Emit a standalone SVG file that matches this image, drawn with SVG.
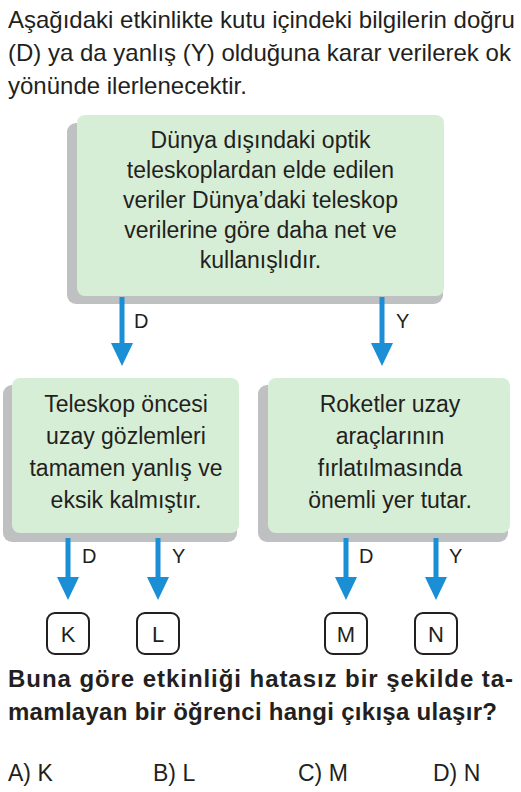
<svg xmlns="http://www.w3.org/2000/svg" width="521" height="792" viewBox="0 0 521 792">
<style>
.t{font-family:"Liberation Sans",Arial,Helvetica,sans-serif;fill:#231f20}
.h{font-size:24px}
.b{font-size:23px;text-anchor:middle}
.lbl{font-size:20px}
.q{font-size:24px;font-weight:bold}
.box{fill:#d7eed6}
.sh{fill:#bfc0c2}
.arr{fill:#1a8fd5}
.ex{fill:#fff;stroke:#231f20;stroke-width:2}
.exl{font-size:22px;text-anchor:middle}
.ans{font-size:23px}
</style>
<rect width="521" height="792" fill="#fff"/>
<g id="header">
<text class="t h" x="8" y="28">Aşağıdaki etkinlikte kutu içindeki bilgilerin doğru</text>
<text class="t h" x="8" y="61">(D) ya da yanlış (Y) olduğuna karar verilerek ok</text>
<text class="t h" x="8" y="94">yönünde ilerlenecektir.</text>
</g>
<g id="top">
<rect class="sh" x="67" y="123" width="376" height="181" rx="9"/>
<rect class="box" x="77" y="115" width="367" height="181" rx="8"/>
<text class="t b" x="260.5" y="148">Dünya dışındaki optik</text>
<text class="t b" x="260.5" y="178">teleskoplardan elde edilen</text>
<text class="t b" x="260.5" y="208">veriler Dünya’daki teleskop</text>
<text class="t b" x="260.5" y="238">verilerine göre daha net ve</text>
<text class="t b" x="260.5" y="268">kullanışlıdır.</text>
</g>
<g id="left">
<rect class="sh" x="3" y="385" width="234" height="157" rx="9"/>
<rect class="box" x="12" y="378" width="227" height="155" rx="8"/>
<text class="t b" x="126" y="412">Teleskop öncesi</text>
<text class="t b" x="126" y="444">uzay gözlemleri</text>
<text class="t b" x="126" y="476">tamamen yanlış ve</text>
<text class="t b" x="126" y="508">eksik kalmıştır.</text>
</g>
<g id="right">
<rect class="sh" x="258" y="385" width="250" height="157" rx="9"/>
<rect class="box" x="268" y="378" width="242" height="155" rx="8"/>
<text class="t b" x="390" y="412">Roketler uzay</text>
<text class="t b" x="390" y="444">araçlarının</text>
<text class="t b" x="390" y="476">fırlatılmasında</text>
<text class="t b" x="390" y="508">önemli yer tutar.</text>
</g>
<g id="connectors">
<path class="arr" d="M119.5,297 V343 H111 L122,366 L133,343 H124.5 V297 Z"/>
<path class="arr" d="M379.5,297 V343 H371 L382,366 L393,343 H384.5 V297 Z"/>
<path class="arr" d="M65.5,538 V577 H57 L68,600 L79,577 H70.5 V538 Z"/>
<path class="arr" d="M155.5,538 V577 H147 L158,600 L169,577 H160.5 V538 Z"/>
<path class="arr" d="M343.5,538 V577 H335 L346,600 L357,577 H348.5 V538 Z"/>
<path class="arr" d="M433.5,538 V577 H425 L436,600 L447,577 H438.5 V538 Z"/>
<text class="t lbl" x="134" y="328">D</text>
<text class="t lbl" x="396" y="328">Y</text>
<text class="t lbl" x="82" y="563">D</text>
<text class="t lbl" x="172" y="563">Y</text>
<text class="t lbl" x="359" y="563">D</text>
<text class="t lbl" x="449" y="563">Y</text>
</g>
<g id="K"><rect class="ex" x="47" y="613" width="42" height="41" rx="8"/><text class="t exl" x="68" y="641.5">K</text></g>
<g id="L"><rect class="ex" x="137" y="613" width="42" height="41" rx="8"/><text class="t exl" x="158" y="641.5">L</text></g>
<g id="M"><rect class="ex" x="325" y="613" width="42" height="41" rx="8"/><text class="t exl" x="346" y="641.5">M</text></g>
<g id="N"><rect class="ex" x="415" y="613" width="42" height="41" rx="8"/><text class="t exl" x="436" y="641.5">N</text></g>
<g id="question">
<text class="t q" x="8" y="687" textLength="505" lengthAdjust="spacing">Buna göre etkinliği hatasız bir şekilde ta-</text>
<text class="t q" x="8" y="720" textLength="489" lengthAdjust="spacing">mamlayan bir öğrenci hangi çıkışa ulaşır?</text>
<text class="t ans" x="8" y="781">A) K</text>
<text class="t ans" x="153" y="781">B) L</text>
<text class="t ans" x="298" y="781">C) M</text>
<text class="t ans" x="433" y="781">D) N</text>
</g>
</svg>
